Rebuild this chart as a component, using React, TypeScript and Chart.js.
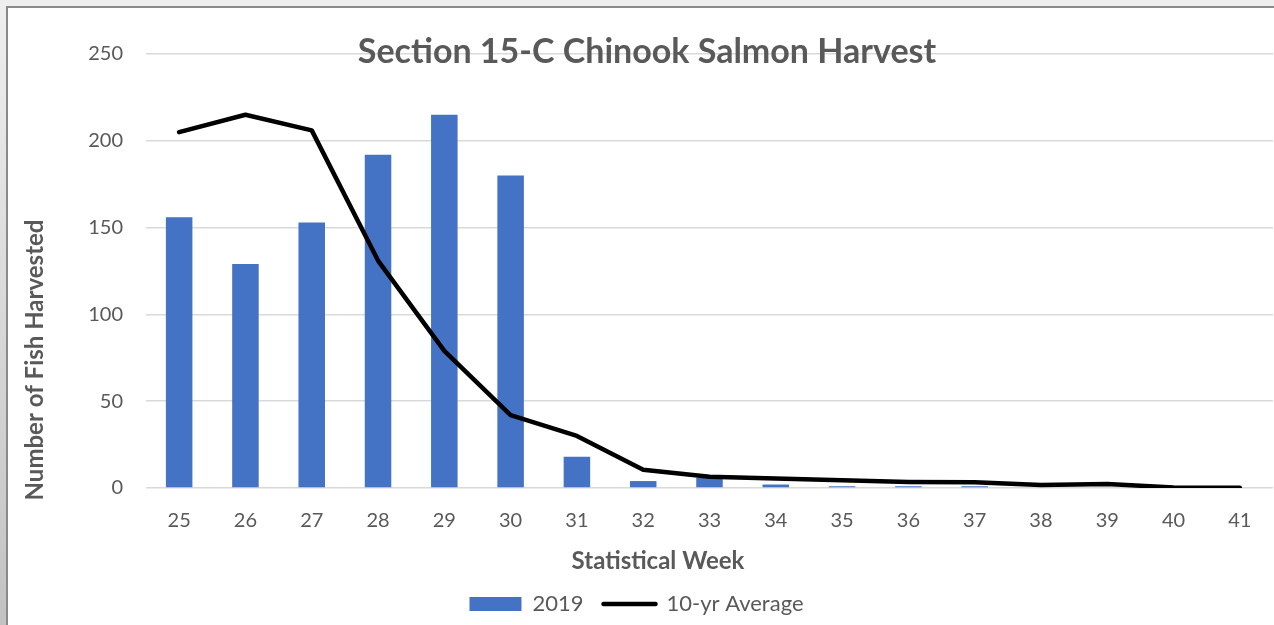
import React, { useEffect, useRef } from "react";
import { Chart, registerables } from "chart.js";

Chart.register(...registerables);

const weeks = ["25", "26", "27", "28", "29", "30", "31", "32", "33", "34", "35", "36", "37", "38", "39", "40", "41"];
const harvest2019 = [156, 129, 153, 192, 215, 180, 18, 4, 6, 2, 1, 1, 1, 0, 0, 0, 0];
const tenYearAverage = [205, 215, 206, 131, 79, 42, 30, 10.5, 6.5, 5.5, 4.5, 3.5, 3.3, 1.7, 2.3, 0.3, 0.2];

const chartTitle = "Section 15-C Chinook Salmon Harvest";
const xTitle = "Statistical Week";
const yTitle = "Number of Fish Harvested";
const seriesLabels = ["2019", "10-yr Average"];

const TEXT = "#595959";
const BLUE = "#4472C4";
const FONT = "Lato, 'Open Sans', sans-serif";

const titlesPlugin = {
  id: "titlesPlugin",
  afterDraw(chart: any) {
    const ctx = chart.ctx;
    ctx.save();
    ctx.fillStyle = TEXT;
    ctx.textAlign = "center";
    ctx.textBaseline = "middle";
    ctx.font = `bold 34px ${FONT}`;
    ctx.fillText(chartTitle, 647, 52);
    ctx.font = `bold 24px ${FONT}`;
    ctx.fillText(xTitle, 658, 561);
    ctx.translate(35, 360);
    ctx.rotate(-Math.PI / 2);
    ctx.fillText(yTitle, 0, 0);
    ctx.restore();
  },
};

export default function App() {
  const ref = useRef<HTMLCanvasElement>(null);
  useEffect(() => {
    if (!ref.current) return;
    const chart = new Chart(ref.current, {
      type: "bar",
      data: {
        labels: weeks,
        datasets: [
          {
            type: "line",
            label: seriesLabels[1],
            data: tenYearAverage,
            borderColor: "#000000",
            backgroundColor: "#000000",
            borderWidth: 4.5,
            pointRadius: 0,
            tension: 0,
            borderCapStyle: "round",
            borderJoinStyle: "round",
          } as any,
          {
            type: "bar",
            label: seriesLabels[0],
            data: harvest2019,
            backgroundColor: BLUE,
            borderWidth: 0,
            barPercentage: 0.4,
            categoryPercentage: 1,
          } as any,
        ],
      },
      options: {
        animation: false,
        responsive: false,
        layout: { padding: { top: 54, right: 1, left: 0, bottom: 0 } },
        plugins: {
          title: { display: false },
          tooltip: { enabled: false },
          legend: {
            display: true,
            position: "bottom",
            maxHeight: 53,
            labels: {
              usePointStyle: true,
              pointStyleWidth: 52,
              boxHeight: 14,
              padding: 20,
              color: TEXT,
              font: { family: FONT, size: 22 },
              generateLabels: (c: any) => {
                const ds = c.data.datasets;
                return [
                  {
                    text: ds[1].label,
                    fillStyle: ds[1].backgroundColor,
                    strokeStyle: ds[1].backgroundColor,
                    lineWidth: 0,
                    pointStyle: "rect",
                    fontColor: TEXT,
                    datasetIndex: 1,
                    hidden: false,
                  },
                  {
                    text: ds[0].label,
                    fillStyle: ds[0].borderColor,
                    strokeStyle: ds[0].borderColor,
                    lineWidth: 4.5,
                    lineCap: "round",
                    pointStyle: "line",
                    fontColor: TEXT,
                    datasetIndex: 0,
                    hidden: false,
                  },
                ];
              },
            },
          },
        },
        scales: {
          x: {
            offset: true,
            grid: { display: false, drawTicks: false },
            border: { display: false },
            ticks: { color: TEXT, font: { family: FONT, size: 20 }, padding: 21, maxRotation: 0, autoSkip: false },
            afterFit: (s: any) => {
              s.height = 85;
            },
          },
          y: {
            min: 0,
            max: 250,
            grid: { color: "#d9d9d9", lineWidth: 1.5, drawTicks: false },
            border: { display: false },
            ticks: { stepSize: 50, color: TEXT, font: { family: FONT, size: 20 }, padding: 23 },
            afterFit: (s: any) => {
              s.width = 146;
            },
          },
        },
      },
      plugins: [titlesPlugin],
    });
    return () => chart.destroy();
  }, []);

  return (
    <div style={{ position: "absolute", left: 0, top: 0, width: 1274, height: 625, overflow: "hidden", background: "linear-gradient(to bottom, #efefef, #c2c2c2)" }}>
      <div style={{ position: "absolute", left: 6, top: 6, right: 0, bottom: 0, background: "#ffffff", borderLeft: "2px solid #8a8a8a", borderTop: "2px solid #8a8a8a" }} />
      <canvas ref={ref} width={1274} height={625} style={{ position: "absolute", left: 0, top: 0, width: 1274, height: 625 }} />
    </div>
  );
}
